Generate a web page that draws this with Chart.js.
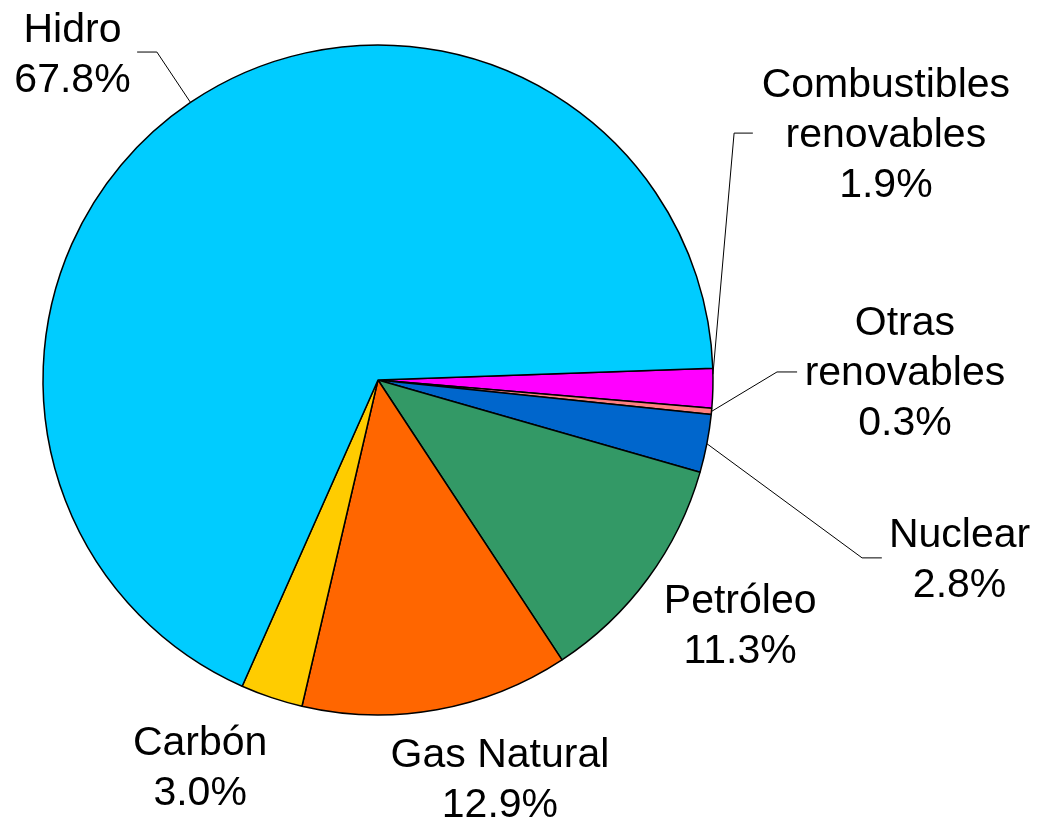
<!DOCTYPE html>
<html>
<head>
<meta charset="utf-8">
<script src="https://cdn.jsdelivr.net/npm/chart.js@4/dist/chart.umd.min.js"></script>
<style>
  html, body { margin: 0; padding: 0; background: #fff; }
  #wrap { position: relative; width: 1038px; height: 821px; }
</style>
</head>
<body>
<div id="wrap"><canvas id="energyPie"></canvas></div>
<script>
// ==================== DATOS ====================
const categories = ['Combustibles renovables', 'Otras renovables', 'Nuclear', 'Petróleo', 'Gas Natural', 'Carbón', 'Hidro'];
const shares = [1.9, 0.3, 2.8, 11.3, 12.9, 3.0, 67.8];
const labelLines = [['Combustibles', 'renovables'], ['Otras', 'renovables'], ['Nuclear'], ['Petróleo'], ['Gas Natural'], ['Carbón'], ['Hidro']];
const sliceColors = ['#FF00FF', '#FF8080', '#0066CC', '#339966', '#FF6600', '#FFCC00', '#00CCFF'];

// Posición de etiquetas (en unidades de radio, relativas al centro del pastel)
// text: centro x / línea base de la primera línea
// lead: inicio y codo de la línea guía; at: fracción del arco donde termina
const labelLayout = [
    { text: [1.516, -0.845], lead: [[1.119, -0.737], [1.063, -0.737]], at: 0.15 },
    { text: [1.573, -0.134], lead: [[1.251, -0.024], [1.191, -0.024]], at: 0.5 },
    { text: [1.736, 0.499], lead: [[1.504, 0.531], [1.445, 0.531]], at: 0.5 },
    { text: [1.081, 0.696] },
    { text: [0.364, 1.155] },
    { text: [-0.531, 1.119] },
    { text: [-0.912, -1.009], lead: [[-0.719, -0.979], [-0.660, -0.979]], at: 0.5 }
];

const FONT = '41px "Liberation Sans", Arial, sans-serif';
const LINE_H = 50;

// Plugin para etiquetas externas con líneas guía
const outerLabels = {
    id: 'outerLabels',
    afterDatasetsDraw(chart) {
        const ctx = chart.ctx;
        const arcs = chart.getDatasetMeta(0).data;
        ctx.save();
        ctx.font = FONT;
        ctx.fillStyle = '#000';
        ctx.strokeStyle = '#000';
        ctx.lineWidth = 1;
        ctx.textAlign = 'center';
        ctx.textBaseline = 'alphabetic';
        arcs.forEach((arc, i) => {
            const { x, y, startAngle, endAngle, outerRadius } = arc.getProps(['x', 'y', 'startAngle', 'endAngle', 'outerRadius'], true);
            const r = outerRadius;
            const cfg = labelLayout[i];
            const lines = labelLines[i].concat([shares[i].toFixed(1) + '%']);
            const tx = x + cfg.text[0] * r;
            const ty = y + cfg.text[1] * r;
            lines.forEach((t, k) => ctx.fillText(t, tx, ty + k * LINE_H));

            if (cfg.lead) {
                const a = startAngle + (endAngle - startAngle) * cfg.at;
                ctx.beginPath();
                ctx.moveTo(x + cfg.lead[0][0] * r, y + cfg.lead[0][1] * r);
                ctx.lineTo(x + cfg.lead[1][0] * r, y + cfg.lead[1][1] * r);
                ctx.lineTo(x + Math.cos(a) * r, y + Math.sin(a) * r);
                ctx.stroke();
            }
        });
        ctx.restore();
    }
};

const canvas = document.getElementById('energyPie');
new Chart(canvas.getContext('2d'), {
    type: 'pie',
    data: {
        labels: categories,
        datasets: [{
            data: shares,
            backgroundColor: sliceColors,
            borderColor: '#000',
            borderWidth: 1.5,
            hoverOffset: 0
        }]
    },
    options: {
        responsive: true,
        maintainAspectRatio: false,
        animation: false,
        rotation: 88,
        radius: 335,
        layout: {
            padding: { left: 43, top: 45, right: 325, bottom: 106 }
        },
        plugins: {
            legend: { display: false },
            tooltip: { enabled: false }
        },
        events: []
    },
    plugins: [outerLabels]
});
</script>
</body>
</html>
